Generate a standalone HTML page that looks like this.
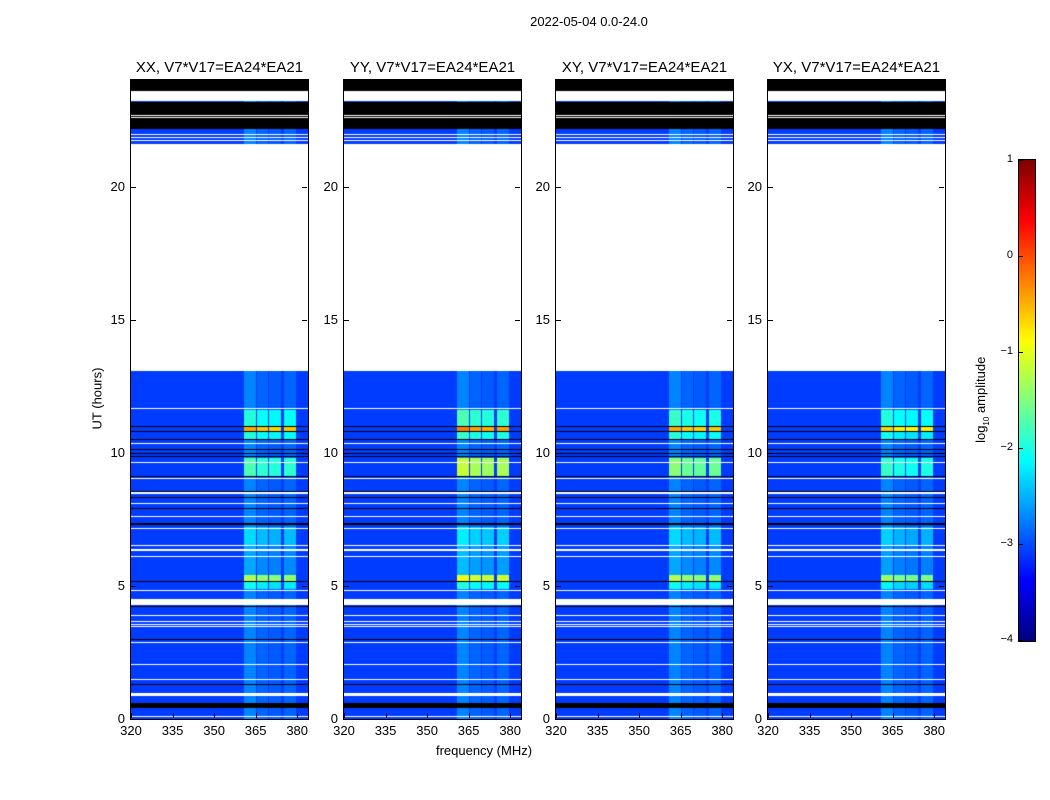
<!DOCTYPE html>
<html><head><meta charset="utf-8"><style>
body{margin:0;background:#fff;font-family:"Liberation Sans",sans-serif;}
#root{position:relative;width:1050px;height:800px;overflow:hidden;}
.t{position:absolute;font-size:13px;color:#000;white-space:nowrap;}
canvas{position:absolute;}
</style></head><body>
<div id="root">
<div class="t" style="left:489px;top:14px;width:200px;text-align:center;">2022-05-04 0.0-24.0</div>
<div class="t" style="left:384px;top:743px;width:200px;text-align:center;">frequency (MHz)</div>
<div class="t" style="left:47px;top:391px;width:100px;text-align:center;transform:rotate(-90deg);">UT (hours)</div>
<div class="t" style="left:927px;top:391px;width:110px;text-align:center;transform:rotate(-90deg);">log<sub style="font-size:8px">10</sub> amplitude</div>
<canvas id="cb" width="16" height="481" style="left:1019px;top:160px;"></canvas>
</div>
<script>
const panelNames=['XX','YY','XY','YX'];
const panelLeft=[131,344,556,768];
const dataRanges=[[0,13.06],[21.6,22.15],[23.18,23.22]];
const blackRanges=[[23.6,24],[22.15,23.17],[10.955,10.99],[10.765,10.8],[10.475,10.51],[10.105,10.14],[9.955,9.99],[9.825,9.86],[9.075,9.11],[8.535,8.57],[8.285,8.32],[7.885,7.92],[7.29,7.37],[5.135,5.17],[4.195,4.23],[2.965,3.0],[1.265,1.3],[0.4,0.59]];
const whiteRanges=[[22.58,22.62],[22.66,22.7],[21.7,21.74],[21.82,21.86],[21.95,21.99],[11.64,11.68],[10.33,10.37],[9.63,9.67],[9.01,9.05],[8.5,8.54],[8.45,8.48],[8.08,8.12],[7.58,7.62],[7.13,7.17],[6.51,6.55],[6.31,6.38],[6.07,6.11],[4.82,4.86],[4.28,4.49],[3.88,3.92],[3.63,3.67],[3.53,3.57],[3.44,3.48],[2.85,2.89],[2.03,2.07],[1.48,1.52],[0.86,0.99],[0.09,0.13]];
const bandEdges=[[360.8,365],[365.5,369.5],[370,374.2],[375.3,379.5]];
const bandOffsets=[0.05,-0.1,-0.15,-0.1];
const eventRanges=[[10.99,11.6],[10.8,10.99],[10.5,10.8],[9.1,9.8],[6.5,7.2],[5.4,6.5],[5.15,5.4],[4.9,5.15]];
const eventLevelsXX=[-2.0,-0.5,-2.0,-1.8,-2.35,-2.6,-1.3,-2.1];
const eventLevelsYY=[-1.8,-0.3,-1.9,-1.2,-2.25,-2.5,-1.0,-2.0];
const eventLevelsXY=[-1.9,-0.5,-2.0,-1.5,-2.35,-2.6,-1.3,-2.1];
const eventLevelsYX=[-2.0,-0.7,-2.1,-1.9,-2.4,-2.65,-1.4,-2.2];
const eventLevels=[eventLevelsXX,eventLevelsYY,eventLevelsXY,eventLevelsYX];
const backgroundLevel=-3.08, bandLevel=-2.78;
const yTicks=[0,5,10,15,20], xTicks=[320,335,350,365,380];
const cbTicks=[1,0,-1,-2,-3,-4];
const vmin=-4,vmax=1;
const PT=80,PB=719,PW=177,FMIN=320,FMAX=383.9,HMAX=24;
function yOf(h){return PB-(h/HMAX)*(PB-PT);}
function hOf(py){return (PB-py)/(PB-PT)*HMAX;}
function fOf(px){return FMIN+px/PW*(FMAX-FMIN);}
function xOf(f){return (f-FMIN)/(FMAX-FMIN)*PW;}
function jet(v){const x=Math.max(0,Math.min(1,(v-vmin)/(vmax-vmin)));const c=t=>Math.round(255*Math.max(0,Math.min(1,1.5-Math.abs(4*x-t))));return [c(3),c(2),c(1)];}
function inR(h,arr){return arr.some(r=>h>=r[0]&&h<r[1]);}
const root=document.getElementById('root');
panelNames.forEach((nm,pi)=>{
  const L=panelLeft[pi];
  const cv=document.createElement('canvas');
  cv.width=PW;cv.height=PB-PT;cv.style.left=L+'px';cv.style.top=PT+'px';
  
  
  root.appendChild(cv);
  const ctx=cv.getContext('2d');const img=ctx.createImageData(PW,PB-PT);
  for(let py=0;py<PB-PT;py++){
    const h=hOf(PT+py+0.5);
    let kind='w';
    if(inR(h,dataRanges))kind='d';
    if(inR(h,blackRanges))kind='b';
    if(inR(h,whiteRanges))kind='w';
    let ev=null;eventRanges.forEach((r,i)=>{if(h>=r[0]&&h<r[1])ev=eventLevels[pi][i];});
    for(let px=0;px<PW;px++){
      let col=[255,255,255];
      if(kind==='b')col=[0,0,0];
      else if(kind==='d'){
        const f=fOf(px+0.5);let v=backgroundLevel;
        bandEdges.forEach((b,bi)=>{if(f>=b[0]&&f<b[1]){v=Math.max(bandLevel,ev===null?bandLevel:ev)+bandOffsets[bi];}});
        col=jet(v);
      }
      const k=(py*PW+px)*4;img.data[k]=col[0];img.data[k+1]=col[1];img.data[k+2]=col[2];img.data[k+3]=255;
    }
  }
  ctx.putImageData(img,0,0);
  const fr=document.createElement('div');
  fr.style.cssText=`position:absolute;left:${L-1}px;top:${PT-1}px;width:${PW}px;height:${PB-PT}px;border:1px solid #000;`;
  
  
  root.appendChild(fr);
  const ti=document.createElement('div');ti.className='t';
  ti.style.cssText=`left:${L-30}px;top:59px;width:${PW+60}px;text-align:center;font-size:15px;`;
  ti.textContent=nm+', V7*V17=EA24*EA21';
  
  
  root.appendChild(ti);
  yTicks.forEach(t=>{const y=yOf(t);
    ['l','r'].forEach(s=>{const tk=document.createElement('div');
      tk.style.cssText=`position:absolute;top:${y}px;left:${s==='l'?L:L+PW-6}px;width:5px;height:1px;background:#000;`;
      
      root.appendChild(tk);});
    const lb=document.createElement('div');lb.className='t';
    lb.style.cssText=`left:${L-40}px;top:${y-8}px;width:34px;text-align:right;`;lb.textContent=t;
    
    root.appendChild(lb);});
  xTicks.forEach(t=>{const x=L+xOf(t);
    [PB-6,PT].forEach(y=>{const tk=document.createElement('div');
      tk.style.cssText=`position:absolute;left:${x}px;top:${y}px;width:1px;height:5px;background:#000;`;
      
      root.appendChild(tk);});
    const lb=document.createElement('div');lb.className='t';
    lb.style.cssText=`left:${x-20}px;top:${PB+4}px;width:40px;text-align:center;`;lb.textContent=t;
    
    root.appendChild(lb);});
});
const cb=document.getElementById('cb').getContext('2d');
for(let i=0;i<481;i++){const v=vmax-(i/480)*(vmax-vmin);const c=jet(v);cb.fillStyle=`rgb(${c[0]},${c[1]},${c[2]})`;cb.fillRect(0,i,16,1);}
const cf=document.createElement('div');cf.style.cssText='position:absolute;left:1018px;top:159px;width:16px;height:481px;border:1px solid #000;';

root.appendChild(cf);
cbTicks.forEach(t=>{const y=160+(vmax-t)/(vmax-vmin)*480;
  const lb=document.createElement('div');lb.className='t';lb.style.cssText=`left:985px;top:${y-7}px;width:28px;text-align:right;font-size:11px;`;
  lb.textContent=t<0?'\u2212'+(-t):String(t);
  
  root.appendChild(lb);
  const tk=document.createElement('div');tk.style.cssText=`position:absolute;left:1019px;top:${y}px;width:4px;height:1px;background:#000;`;
  
  root.appendChild(tk);});
</script>
</body></html>
